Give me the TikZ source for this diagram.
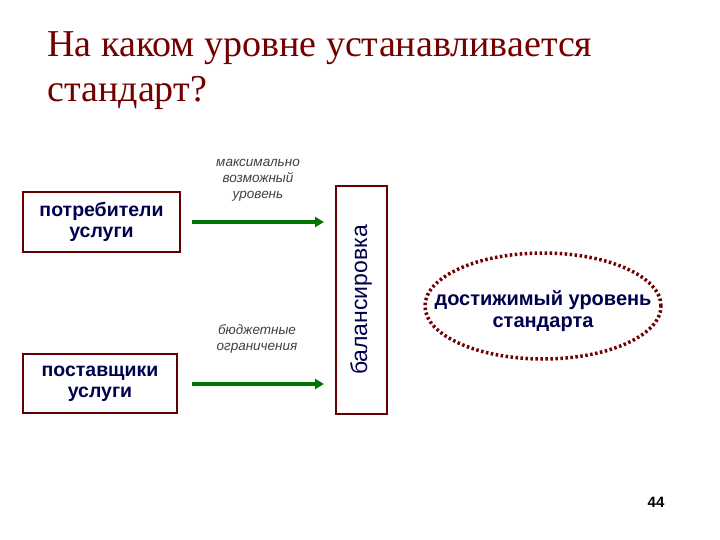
\documentclass[tikz,border=0pt]{standalone}
\usepackage{fontspec}
\setmainfont{Liberation Sans}
\newfontfamily\titlefont{Liberation Serif}
\usetikzlibrary{arrows.meta,shapes.geometric}
\begin{document}
\begin{tikzpicture}[x=1pt,y=-1pt,
  box/.style={draw=red!40!black,line width=2.4pt,inner sep=0pt},
  bt/.style={font=\bfseries\fontsize{19.5}{21.5}\selectfont,text=blue!30!black,align=center},
  lbl/.style={font=\itshape\fontsize{13.5}{16}\selectfont,text=black!75,align=center},
  arr/.style={-{Triangle[length=9pt,width=10pt]},line width=4.5pt,green!45!black}]
\useasboundingbox (0,0) rectangle (720,540);
\node[anchor=north west,align=left,text=red!45!black,font=\titlefont\fontsize{38}{45}\selectfont] (title) at (44,28) {На каком уровне устанавливается\\стандарт?};
\draw[box] (23,192) rectangle (180,252);
\node[bt] (p) at (101.5,222) {потребители\\услуги};
\draw[box] (23,354) rectangle (177,413);
\node[bt] (s) at (100,384) {поставщики\\услуги};
\draw[box] (336,186) rectangle (387,414);
\node[rotate=90,font=\fontsize{23}{25}\selectfont,text=blue!30!black] (b) at (361,300) {балансировка};
\coordinate (a1s) at (192,222); \coordinate (a1e) at (324,222);
\coordinate (a2s) at (192,384); \coordinate (a2e) at (324,384);
\draw[arr] (a1s) -- (a1e);
\draw[arr] (a2s) -- (a2e);
\node[lbl] (l1) at (258,180) {максимально\\возможный\\уровень};
\node[lbl] (l2) at (257,339) {бюджетные\\ограничения};
\node[ellipse,draw=red!45!black,line width=3.5pt,dash pattern=on 2.5pt off 2.5pt,minimum width=236pt,minimum height=106pt] (e) at (543,306) {};
\node[bt,font=\bfseries\fontsize{20}{22}\selectfont] at (543,311) {достижимый уровень\\стандарта};
\node[font=\bfseries\fontsize{15}{17}\selectfont] (n) at (656,502) {44};
\end{tikzpicture}
\end{document}
